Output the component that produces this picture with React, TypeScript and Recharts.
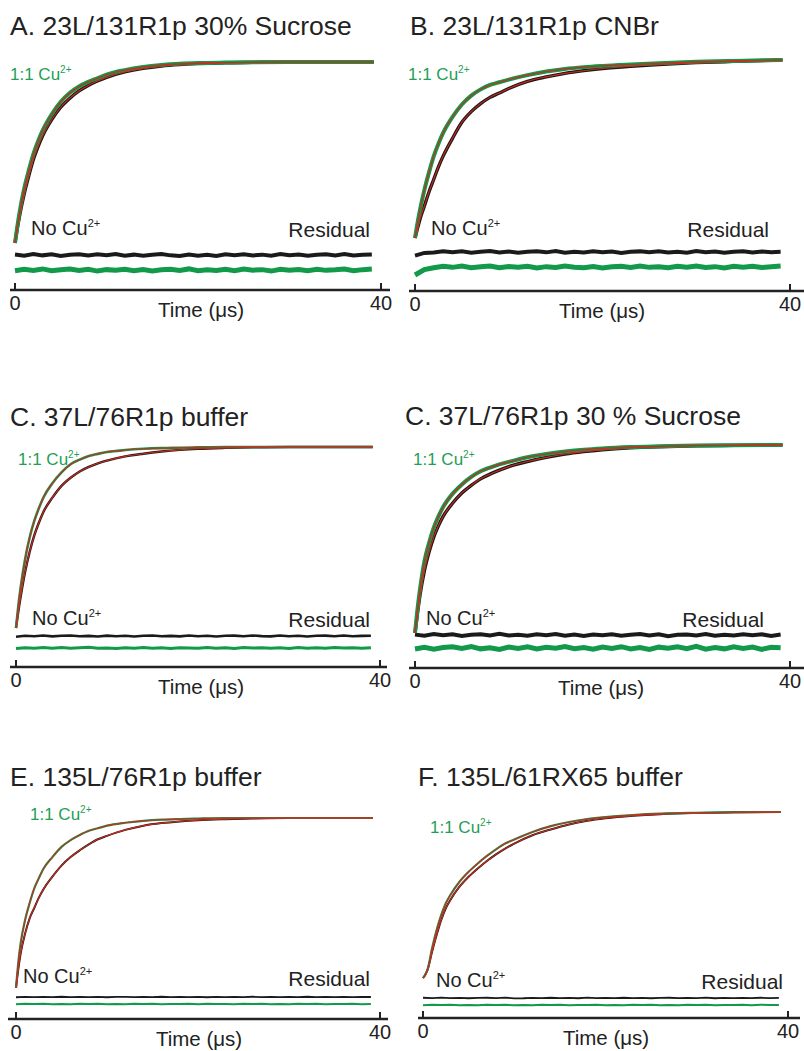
import React from 'react';
import { LineChart, Line, XAxis, YAxis } from 'recharts';

const FONT = '"Liberation Sans", Arial, Helvetica, sans-serif';
const GREEN = '#12994a';
const GREEN_TEXT = '#1f9e55';
const BLACK = '#1a1a1a';
const RED = '#d0281f';
const INK = '#222222';
const XAXIS_H = 40;
const RES_UNIT = 0.0005;

// time grid (µs) for the kinetic traces
const CURVE_T = [0, 0.25, 0.5, 1, 1.5, 2, 2.5, 3, 4, 5, 6, 7, 8, 9, 10, 12, 14, 16, 18, 20, 23, 26, 30, 34, 39.2];
// time grid (µs) for the residual traces
const RES_T = [0, 1, 2, 3, 4, 5, 6, 7, 8, 9, 10, 11, 12, 13, 14, 15, 16, 17, 18, 19, 20, 21, 22, 23, 24, 25, 26, 27, 28, 29, 30, 31, 32, 33, 34, 35, 36, 37, 38, 39];
const X_TICKS = [0, 40];

// normalized signal, 1:1 Cu2+ (green) and no Cu2+ (black)
const greenA = [0, 0.09, 0.17, 0.3, 0.4, 0.49, 0.56, 0.62, 0.71, 0.78, 0.83, 0.865, 0.89, 0.91, 0.93, 0.955, 0.972, 0.983, 0.99, 0.994, 0.997, 0.999, 1, 1, 1];
const blackA = [0, 0.08, 0.15, 0.27, 0.37, 0.46, 0.53, 0.59, 0.68, 0.75, 0.8, 0.84, 0.87, 0.895, 0.915, 0.945, 0.965, 0.978, 0.986, 0.991, 0.996, 0.998, 1, 1, 1];
const greenB = [0, 0.08, 0.15, 0.27, 0.37, 0.46, 0.53, 0.59, 0.68, 0.75, 0.8, 0.835, 0.86, 0.875, 0.89, 0.915, 0.935, 0.95, 0.96, 0.967, 0.975, 0.982, 0.99, 0.995, 1];
const blackB = [0, 0.05, 0.1, 0.18, 0.26, 0.33, 0.4, 0.46, 0.56, 0.65, 0.71, 0.755, 0.79, 0.815, 0.84, 0.88, 0.905, 0.925, 0.94, 0.952, 0.965, 0.975, 0.985, 0.992, 1];
const greenC = [0, 0.12, 0.22, 0.38, 0.5, 0.59, 0.66, 0.72, 0.8, 0.86, 0.905, 0.93, 0.95, 0.962, 0.972, 0.983, 0.99, 0.994, 0.996, 0.998, 1, 1, 1, 1, 1];
const blackC = [0, 0.09, 0.17, 0.31, 0.42, 0.51, 0.58, 0.64, 0.72, 0.785, 0.83, 0.865, 0.89, 0.91, 0.925, 0.948, 0.963, 0.975, 0.984, 0.99, 0.995, 0.998, 1, 1, 1];
const greenD = [0, 0.12, 0.22, 0.38, 0.48, 0.56, 0.62, 0.67, 0.74, 0.79, 0.83, 0.86, 0.88, 0.897, 0.91, 0.935, 0.952, 0.965, 0.975, 0.982, 0.989, 0.993, 0.997, 0.999, 1];
const blackD = [0, 0.1, 0.19, 0.33, 0.43, 0.51, 0.57, 0.62, 0.69, 0.745, 0.785, 0.82, 0.845, 0.866, 0.885, 0.912, 0.934, 0.952, 0.965, 0.975, 0.985, 0.991, 0.996, 0.998, 1];
const greenE = [0, 0.15, 0.26, 0.4, 0.5, 0.585, 0.645, 0.7, 0.77, 0.83, 0.87, 0.9, 0.925, 0.94, 0.955, 0.972, 0.983, 0.99, 0.994, 0.997, 1, 1, 1, 1, 1];
const blackE = [0, 0.11, 0.2, 0.32, 0.41, 0.47, 0.53, 0.58, 0.655, 0.72, 0.77, 0.81, 0.845, 0.875, 0.895, 0.93, 0.955, 0.97, 0.98, 0.987, 0.993, 0.997, 1, 1, 1];
const greenF = [0, 0.02, 0.05, 0.18, 0.29, 0.38, 0.45, 0.5, 0.58, 0.64, 0.69, 0.735, 0.775, 0.81, 0.835, 0.88, 0.915, 0.94, 0.958, 0.97, 0.982, 0.99, 0.995, 0.998, 1];
const blackF = [0, 0.02, 0.05, 0.16, 0.26, 0.35, 0.42, 0.47, 0.55, 0.61, 0.66, 0.705, 0.745, 0.78, 0.81, 0.86, 0.895, 0.925, 0.947, 0.962, 0.977, 0.987, 0.994, 0.998, 1];

// residuals (units of 0.0005 of the normalized amplitude)
const resBlackA = [5, -8, 10, -4, 7, -11, 3, 9, -6, 8, -3, 12, -7, 4, -9, 2, 10, -4, -10, 6, -8, 3, -12, 7, -2, 9, -5, 4, -8, 11, -3, 6, -9, 2, 8, -4, 12, -6, 3, 5];
const resGreenA = [-9, 7, -4, 12, -8, 3, 10, -6, 8, -12, 4, -3, 9, -7, 5, -10, 2, 8, -4, 12, -9, 3, -6, 7, -8, 10, -2, 4, -12, 8, -3, 6, -7, 9, -4, 2, 11, -8, 4, 12];
const resBlackB = [-40, -10, -6, 9, -3, 7, -8, 2, 10, -5, 6, -9, 3, 8, -4, 11, -7, 2, -5, 9, -2, 6, -10, 4, 7, -3, 9, -6, 2, -8, 10, -4, 5, -7, 3, 8, -5, 6, -2, 4];
const resGreenB = [-90, -30, -8, 8, -4, 10, -7, 3, 12, -9, 5, -3, 9, -11, 4, -6, 10, -2, -8, 6, -12, 3, 7, -5, 11, -4, 2, -9, 8, -3, 12, -6, 4, -10, 7, -2, 9, -5, 3, 10];
const resBlackC = [-8, 3, -2, 5, -4, 2, 6, -3, 1, -5, 4, -2, 3, -6, 2, 5, -3, 1, -4, 6, -2, 3, -5, 2, 4, -3, 6, -1, -4, 5, -2, 3, -6, 2, 4, -3, 5, -2, 1, 3];
const resGreenC = [-6, 4, -3, 6, -2, 5, -4, 2, 7, -3, 1, -5, 3, -2, 6, -4, 2, -6, 4, 1, -3, 5, -2, 3, -5, 6, -1, 4, -3, 2, -6, 5, -2, 3, -4, 6, -1, 2, -3, 4];
const resBlackD = [4, -7, 10, -3, 8, -11, 2, 9, -5, 12, -6, 3, -9, 7, -2, 11, -8, 4, -10, 6, -3, 9, -7, 2, 10, -5, 8, -12, 3, 6, -4, 11, -8, 2, -6, 9, -3, 7, -10, 5];
const resGreenD = [-10, 8, -14, 5, 12, -6, 15, -9, 3, -16, 10, -4, 13, -11, 7, -2, 16, -8, 4, -13, 11, -5, 14, -10, 6, -15, 9, -3, 12, -7, 17, -12, 5, -9, 13, -4, 10, -14, 8, 3];
const resBlackE = [-3, 1, -2, 2, -1, 3, -2, 1, -1, 2, -3, 1, 2, -2, 1, -1, 3, -2, 1, -1, 2, -3, 1, -1, 2, -2, 3, -1, 1, -2, 2, -1, 3, -2, 1, -1, 2, -2, 1, 0];
const resGreenE = [-4, 2, -1, 3, -2, 1, -3, 2, -1, 3, -2, 1, -2, 2, -1, 3, -3, 1, -1, 2, -2, 3, -1, 1, -3, 2, -1, 2, -2, 1, -3, 3, -1, 2, -2, 1, -1, 3, -2, 1];
const resBlackF = [3, -2, 4, -1, 2, -3, 1, 3, -2, 4, -4, -3, 1, -2, 3, -1, 2, -3, 4, -2, 1, -1, 3, -2, 2, -3, 1, 3, -1, 2, -2, 4, -3, 1, -1, 2, -2, 3, -1, 2];
const resGreenF = [-2, 3, -1, 2, -3, 1, -2, 3, -1, 2, -2, 1, -3, 2, -1, 3, -2, 1, -1, 2, -3, 1, -2, 3, -1, 2, -2, 1, -3, 2, -1, 3, -2, 1, -1, 2, -2, 3, -1, 1];

const TITLES = [
  'A. 23L/131R1p 30% Sucrose',
  'B. 23L/131R1p CNBr',
  'C. 37L/76R1p buffer',
  'C. 37L/76R1p 30 % Sucrose',
  'E. 135L/76R1p buffer',
  'F. 135L/61RX65 buffer',
];

type Cfg = {
  title: string;
  green: number[]; black: number[]; resB: number[]; resG: number[];
  x0: number; x40: number; axisLeft: number; axisRight: number;
  y0: number; y1: number; axisY: number; resBY: number; resGY: number; plotTop: number;
  titleX: number; titleY: number;
  cuX: number; cuY: number; noX: number; noY: number; resX: number; resY: number; timeX: number;
  noisy: number;
};

const PANELS: Cfg[] = [
  { title: TITLES[0], green: greenA, black: blackA, resB: resBlackA, resG: resGreenA,
    x0: 15, x40: 381, axisLeft: 10, axisRight: 390, y0: 243, y1: 62, axisY: 290, resBY: 255, resGY: 270, plotTop: 40,
    titleX: 10, titleY: 35, cuX: 10, cuY: 80, noX: 31, noY: 235, resX: 370, resY: 237, timeX: 201, noisy: 1 },
  { title: TITLES[1], green: greenB, black: blackB, resB: resBlackB, resG: resGreenB,
    x0: 415, x40: 790, axisLeft: 409, axisRight: 804, y0: 238, y1: 60, axisY: 291, resBY: 252, resGY: 267, plotTop: 38,
    titleX: 410, titleY: 35, cuX: 408, cuY: 80, noX: 431, noY: 235, resX: 769, resY: 237, timeX: 602, noisy: 1 },
  { title: TITLES[2], green: greenC, black: blackC, resB: resBlackC, resG: resGreenC,
    x0: 16, x40: 380, axisLeft: 10, axisRight: 387, y0: 628, y1: 447, axisY: 667, resBY: 636, resGY: 648, plotTop: 428,
    titleX: 10, titleY: 426, cuX: 18, cuY: 465, noX: 32, noY: 625, resX: 370, resY: 627, timeX: 201, noisy: 0.5 },
  { title: TITLES[3], green: greenD, black: blackD, resB: resBlackD, resG: resGreenD,
    x0: 415, x40: 790, axisLeft: 409, axisRight: 804, y0: 633, y1: 445, axisY: 668, resBY: 635, resGY: 648, plotTop: 428,
    titleX: 405, titleY: 425, cuX: 413, cuY: 465, noX: 426, noY: 625, resX: 764, resY: 627, timeX: 601, noisy: 1 },
  { title: TITLES[4], green: greenE, black: blackE, resB: resBlackE, resG: resGreenE,
    x0: 16, x40: 380, axisLeft: 8, axisRight: 388, y0: 988, y1: 818, axisY: 1019, resBY: 997, resGY: 1004, plotTop: 798,
    titleX: 10, titleY: 786, cuX: 30, cuY: 820, noX: 23, noY: 983, resX: 370, resY: 986, timeX: 199, noisy: 0 },
  { title: TITLES[5], green: greenF, black: blackF, resB: resBlackF, resG: resGreenF,
    x0: 423, x40: 788, axisLeft: 418, axisRight: 800, y0: 978, y1: 812, axisY: 1018, resBY: 998, resGY: 1005, plotTop: 792,
    titleX: 418, titleY: 786, cuX: 430, cuY: 833, noX: 436, noY: 987, resX: 783, resY: 989, timeX: 606, noisy: 0 },
];

function buildRows(c: Cfg) {
  const span = c.y0 - c.y1;
  const offB = (c.y0 - c.resBY) / span;
  const offG = (c.y0 - c.resGY) / span;
  const ts = Array.from(new Set([...CURVE_T, ...RES_T])).sort((a, b) => a - b);
  return ts.map((t) => {
    const row: any = { t };
    const ci = CURVE_T.indexOf(t);
    if (ci >= 0) {
      row.g = c.green[ci];
      row.b = c.black[ci];
      row.fg = c.green[ci];
      row.fb = c.black[ci];
    }
    const ri = RES_T.indexOf(t);
    if (ri >= 0) {
      row.rb = offB + c.resB[ri] * RES_UNIT;
      row.rg = offG + c.resG[ri] * RES_UNIT;
    }
    return row;
  });
}

const renderTick = (props: any) => {
  const { x, y, payload } = props;
  return (
    <g>
      <line x1={x} x2={x} y1={y} y2={y - 7} stroke={INK} strokeWidth={2} />
      <text x={x} y={y + 20} textAnchor="middle" fontSize={20} fontFamily={FONT} fill={INK}>
        {payload.value}
      </text>
    </g>
  );
};

const PAD_L = 14;
const PAD_R = 16;

function Panel({ c }: { c: Cfg }) {
  const pxPerT = (c.x40 - c.x0) / 40;
  const span = c.y0 - c.y1;
  const xDomain = [(c.axisLeft - c.x0) / pxPerT, 40 + (c.axisRight - c.x40) / pxPerT];
  const yDomain = [(c.y0 - c.axisY) / span, (c.y0 - c.plotTop) / span];
  const rows = buildRows(c);
  const width = c.axisRight - c.axisLeft + PAD_L + PAD_R;
  const height = c.axisY - c.plotTop + XAXIS_H;
  const greenW = c.noisy >= 1 ? 4 : c.noisy > 0 ? 2.6 : 2.2;
  const blackW = c.noisy >= 1 ? 3.4 : c.noisy > 0 ? 2.4 : 2;
  const resGW = c.noisy >= 1 ? 5 : c.noisy > 0 ? 3 : 2;
  const resBW = c.noisy >= 1 ? 4 : c.noisy > 0 ? 2.6 : 1.8;
  const common = { dot: false, activeDot: false, connectNulls: true, isAnimationActive: false } as const;
  return (
    <div style={{ position: 'absolute', left: c.axisLeft - PAD_L, top: c.plotTop, width, height }}>
      <LineChart width={width} height={height} data={rows} margin={{ top: 0, right: PAD_R, bottom: 0, left: PAD_L }}>
        <XAxis
          type="number"
          dataKey="t"
          domain={xDomain}
          allowDataOverflow
          ticks={X_TICKS}
          interval={0}
          height={XAXIS_H}
          tickSize={0}
          tickMargin={0}
          tickLine={false}
          axisLine={{ stroke: INK, strokeWidth: 2.5 }}
          tick={renderTick}
        />
        <YAxis hide type="number" domain={yDomain} allowDataOverflow />
        <Line dataKey="rb" type="linear" stroke={BLACK} strokeWidth={resBW} {...common} />
        <Line dataKey="rg" type="linear" stroke={GREEN} strokeWidth={resGW} {...common} />
        <Line dataKey="b" type="monotone" stroke={BLACK} strokeWidth={blackW} {...common} />
        <Line dataKey="g" type="monotone" stroke={GREEN} strokeWidth={greenW} {...common} />
        <Line dataKey="fb" type="monotone" stroke={RED} strokeWidth={1.1} {...common} />
        <Line dataKey="fg" type="monotone" stroke={RED} strokeWidth={1.1} {...common} />
      </LineChart>
    </div>
  );
}

function Labels() {
  return (
    <svg width={804} height={1051} style={{ position: 'absolute', left: 0, top: 0, pointerEvents: 'none' }} fontFamily={FONT}>
      {PANELS.map((c, i) => (
        <g key={i}>
          <text x={c.titleX} y={c.titleY} fontSize={26.5} fill={INK}>{c.title}</text>
          <text x={c.cuX} y={c.cuY} fontSize={17} fill={GREEN_TEXT}>
            1:1 Cu<tspan fontSize={10} dy={-7}>2+</tspan>
          </text>
          <text x={c.noX} y={c.noY} fontSize={20} fill={INK}>
            No Cu<tspan fontSize={11} dy={-8}>2+</tspan>
          </text>
          <text x={c.resX} y={c.resY} fontSize={21} fill={INK} textAnchor="end">Residual</text>
          <text x={c.timeX} y={c.axisY + 27} fontSize={20.5} fill={INK} textAnchor="middle">Time (μs)</text>
        </g>
      ))}
    </svg>
  );
}

export default function App() {
  return (
    <div style={{ position: 'absolute', left: 0, top: 0, width: 804, height: 1051, background: '#ffffff', overflow: 'hidden' }}>
      {PANELS.map((c, i) => (
        <Panel key={i} c={c} />
      ))}
      <Labels />
    </div>
  );
}
